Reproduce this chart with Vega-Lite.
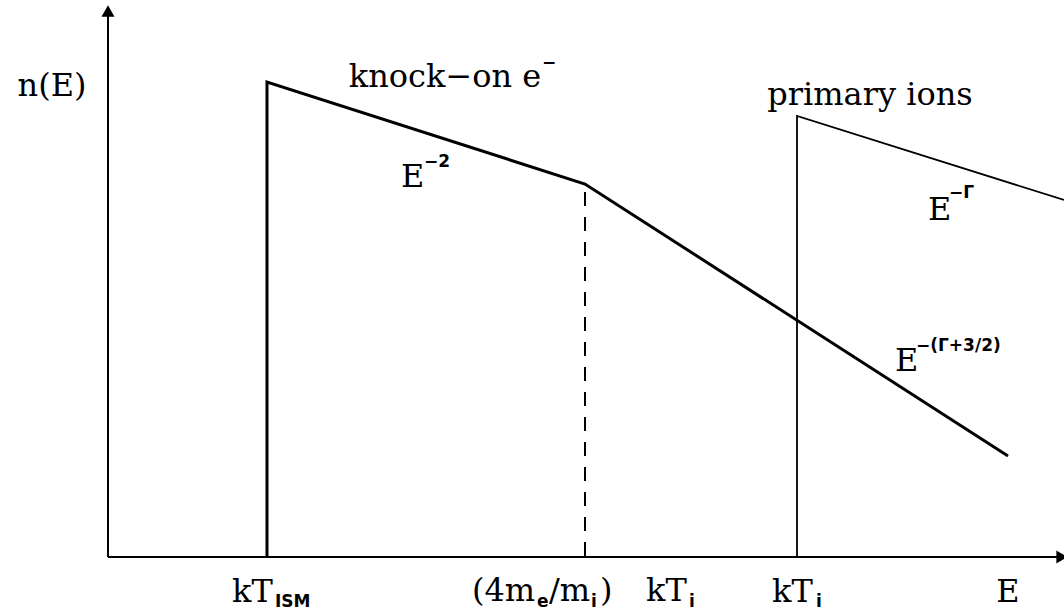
{
  "$schema": "https://vega.github.io/schema/vega-lite/v6.json",
  "width": 1064,
  "height": 612,
  "autosize": "none",
  "padding": 0,
  "background": "white",
  "config": {"view": {"stroke": null}},
  "datasets": {
    "curves": [
      {"curve": "knock-on", "o": 1, "E": 159, "n": 0},
      {"curve": "knock-on", "o": 2, "E": 159, "n": 475},
      {"curve": "knock-on", "o": 3, "E": 477, "n": 373},
      {"curve": "knock-on", "o": 4, "E": 900, "n": 101},
      {"curve": "primary", "o": 1, "E": 689, "n": 0},
      {"curve": "primary", "o": 2, "E": 689, "n": 441},
      {"curve": "primary", "o": 3, "E": 956, "n": 357},
      {"curve": "axisY", "o": 1, "E": 0, "n": 0},
      {"curve": "axisY", "o": 2, "E": 0, "n": 542},
      {"curve": "axisX", "o": 1, "E": 0, "n": 0},
      {"curve": "axisX", "o": 2, "E": 950, "n": 0},
      {"curve": "break", "o": 1, "E": 477, "n": 365},
      {"curve": "break", "o": 2, "E": 477, "n": 0}
    ],
    "arrows": [
      {"axis": "n", "E": 0, "n": 546},
      {"axis": "E", "E": 954, "n": 0}
    ],
    "centred": [
      {"t": "n(E)", "E": -56, "n": 461},
      {"t": "knock−on e", "E": 337, "n": 470},
      {"t": "primary ions", "E": 762, "n": 452},
      {"t": "E", "E": 900, "n": -45}
    ],
    "left": [
      {"t": "E", "E": 293, "n": 370},
      {"t": "E", "E": 820, "n": 337},
      {"t": "E", "E": 787, "n": 186},
      {"t": "kT", "E": 124, "n": -45},
      {"t": "(4m", "E": 364, "n": -44},
      {"t": "/m", "E": 441, "n": -44},
      {"t": ")", "E": 492, "n": -44},
      {"t": "kT", "E": 538, "n": -44},
      {"t": "kT", "E": 664, "n": -45}
    ],
    "scripts": [
      {"t": "−", "E": 434, "n": 489},
      {"t": "−2", "E": 316, "n": 390},
      {"t": "−Γ", "E": 841, "n": 359},
      {"t": "−(Γ+3/2)", "E": 808, "n": 206},
      {"t": "ISM", "E": 167, "n": -50},
      {"t": "e", "E": 429, "n": -50},
      {"t": "i", "E": 483, "n": -50},
      {"t": "i", "E": 581, "n": -50},
      {"t": "i", "E": 708, "n": -50}
    ]
  },
  "encoding": {
    "x": {"field": "E", "type": "quantitative", "scale": {"domain": [-108, 956], "nice": false, "zero": false}, "axis": null},
    "y": {"field": "n", "type": "quantitative", "scale": {"domain": [-55, 557], "nice": false, "zero": false}, "axis": null}
  },
  "layer": [
    {
      "data": {"name": "curves"},
      "transform": [{"filter": "datum.curve === 'axisX' || datum.curve === 'axisY'"}],
      "mark": {"type": "line", "color": "black", "strokeWidth": 2},
      "encoding": {"detail": {"field": "curve"}, "order": {"field": "o"}}
    },
    {
      "data": {"name": "curves"},
      "transform": [{"filter": "datum.curve === 'knock-on'"}],
      "mark": {"type": "line", "color": "black", "strokeWidth": 3},
      "encoding": {"order": {"field": "o"}}
    },
    {
      "data": {"name": "curves"},
      "transform": [{"filter": "datum.curve === 'primary'"}],
      "mark": {"type": "line", "color": "black", "strokeWidth": 1.8},
      "encoding": {"order": {"field": "o"}}
    },
    {
      "data": {"name": "curves"},
      "transform": [{"filter": "datum.curve === 'break'"}],
      "mark": {"type": "line", "color": "black", "strokeWidth": 2, "strokeDash": [14, 11]},
      "encoding": {"order": {"field": "o"}}
    },
    {
      "data": {"name": "arrows"},
      "transform": [{"filter": "datum.axis === 'n'"}],
      "mark": {"type": "point", "shape": "triangle-up", "filled": true, "color": "black", "opacity": 1, "size": 170}
    },
    {
      "data": {"name": "arrows"},
      "transform": [{"filter": "datum.axis === 'E'"}],
      "mark": {"type": "point", "shape": "triangle-right", "filled": true, "color": "black", "opacity": 1, "size": 170}
    },
    {
      "data": {"name": "centred"},
      "mark": {"type": "text", "font": "DejaVu Serif", "fontSize": 32, "align": "center", "baseline": "alphabetic", "color": "black"},
      "encoding": {"text": {"field": "t"}}
    },
    {
      "data": {"name": "left"},
      "mark": {"type": "text", "font": "DejaVu Serif", "fontSize": 32, "align": "left", "baseline": "alphabetic", "color": "black"},
      "encoding": {"text": {"field": "t"}}
    },
    {
      "data": {"name": "scripts"},
      "mark": {"type": "text", "font": "DejaVu Sans", "fontSize": 17, "fontWeight": "bold", "align": "left", "baseline": "alphabetic", "color": "black"},
      "encoding": {"text": {"field": "t"}}
    }
  ]
}
